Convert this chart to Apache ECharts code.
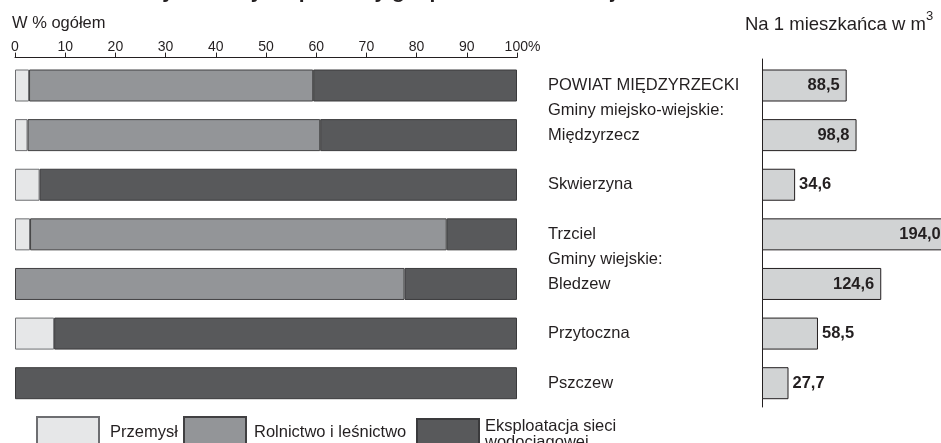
<!DOCTYPE html>
<html>
<head>
<meta charset="utf-8">
<title>Zużycie wody</title>
<script src="https://cdn.jsdelivr.net/npm/echarts@6/dist/echarts.min.js"></script>
<style>
html, body { margin: 0; padding: 0; background: #fff; }
#chart { width: 941px; height: 443px; }
</style>
</head>
<body>
<div id="chart"></div>
<script>
// wiersze wykresu - naglowki grup i puste wiersze tez zajmuja miejsce na osi
var categories = ['POWIAT MIĘDZYRZECKI', 'Gminy miejsko-wiejskie:', 'Międzyrzecz', '', 'Skwierzyna', '',
  'Trzciel', 'Gminy wiejskie:', 'Bledzew', '', 'Przytoczna', '', 'Pszczew'];
// struktura zuzycia w % ogolem
var przemysl = [2.8, null, 2.5, null, 4.9, null, 3.0, null, null, null, 7.8, null, null];
var rolnictwo = [56.6, null, 58.3, null, null, null, 83.0, null, 77.6, null, null, null, null];
var eksploatacja = [40.6, null, 39.2, null, 95.1, null, 14.0, null, 22.4, null, 92.2, null, 100];
// na 1 mieszkanca w m3
var naMieszkanca = [88.5, null, 98.8, null, 34.6, null, 194.0, null, 124.6, null, 58.5, null, 27.7];

var FONT = 'Liberation Sans';
var INK = '#231f20';

var myChart = echarts.init(document.getElementById('chart'));

function fmt (v) {
  return v.toFixed(1).replace('.', ',');
}

function legendAt (name, left, textPad) {
  return {
    data: [name], left: left, top: 416, padding: 0, icon: 'rect', itemWidth: 62, itemHeight: 30,
    textStyle: { fontSize: 16.5, fontFamily: FONT, color: INK, lineHeight: 16, padding: textPad }
  }
}

var option = {
  animation: false,
  backgroundColor: '#fff',
  textStyle: { fontFamily: FONT, color: INK },
  graphic: [
    {
      type: 'text', left: 126, top: -18,
      style: { text: 'Zużycie wody na potrzeby gospodarki narodowej i ludności', font: 'bold 21px ' + FONT, fill: INK }
    },
    {
      type: 'text', left: 12, top: 15,
      style: { text: 'W % ogółem', font: '16.5px ' + FONT, fill: INK }
    },
    {
      type: 'text', left: 745, top: 10,
      style: {
        text: '{a|Na 1 mieszkańca w m}{b|3}',
        fill: INK,
        rich: {
          a: { fontSize: 18.5, fontFamily: FONT, lineHeight: 30, fill: INK },
          b: { fontSize: 13, fontFamily: FONT, lineHeight: 13, verticalAlign: 'top', fill: INK }
        }
      }
    }
  ],
  legend: [
    legendAt('Przemysł', 36, [0, 0, 12, 6]),
    legendAt('Rolnictwo i leśnictwo', 183, [0, 0, 12, 3]),
    legendAt('Eksploatacja sieci\nwodociągowej', 416, [0, 0, 4, 1])
  ],
  grid: [
    { left: 15, width: 502, top: 73.1, bottom: 47.4 },
    { left: 762, right: 1, top: 73.1, bottom: 47.4 },
    { left: 762, width: 10, top: 59, bottom: 36 }
  ],
  xAxis: [
    {
      gridIndex: 0, type: 'value', min: 0, max: 100, interval: 10, position: 'top', offset: 15.5,
      axisLine: { show: true, lineStyle: { color: INK, width: 1 } },
      axisTick: { show: true, length: 5, lineStyle: { color: INK } },
      axisLabel: {
        margin: 3, fontSize: 14, fontFamily: FONT, color: INK,
        formatter: function (v) { return v === 100 ? '{p|100%}' : String(v) },
        rich: { p: { fontSize: 14, fontFamily: FONT, color: INK, padding: [0, 0, 0, 11] } }
      },
      splitLine: { show: false }
    },
    // skala ok. 0,958 px na m3 - slupek Trzciela wychodzi poza obszar rysunku
    { gridIndex: 1, type: 'value', min: 0, max: 186, show: false },
    { gridIndex: 2, type: 'value', min: 0, max: 1, show: false }
  ],
  yAxis: [
    {
      gridIndex: 0, type: 'category', data: categories, inverse: true, position: 'right',
      axisLine: { show: false }, axisTick: { show: false },
      axisLabel: { margin: 31, align: 'left', fontSize: 16.5, fontFamily: FONT, color: INK }
    },
    { gridIndex: 1, type: 'category', data: categories, inverse: true, show: false },
    {
      gridIndex: 2, type: 'value', min: 0, max: 1,
      axisLine: { show: true, lineStyle: { color: INK, width: 1 } },
      axisTick: { show: false }, axisLabel: { show: false }, splitLine: { show: false }
    }
  ],
  series: [
    {
      name: 'Przemysł', type: 'bar', stack: 'udzial', barWidth: 32, clip: false,
      xAxisIndex: 0, yAxisIndex: 0, data: przemysl,
      itemStyle: { color: '#e6e7e8', borderColor: '#6d6e71', borderWidth: 1 }
    },
    {
      name: 'Rolnictwo i leśnictwo', type: 'bar', stack: 'udzial', barWidth: 32, clip: false,
      xAxisIndex: 0, yAxisIndex: 0, data: rolnictwo,
      itemStyle: { color: '#939598', borderColor: '#414042', borderWidth: 1 }
    },
    {
      name: 'Eksploatacja sieci\nwodociągowej', type: 'bar', stack: 'udzial', barWidth: 32, clip: false,
      xAxisIndex: 0, yAxisIndex: 0, data: eksploatacja,
      itemStyle: { color: '#58595b', borderColor: '#3a3a3c', borderWidth: 1 }
    },
    {
      name: 'Na 1 mieszkańca', type: 'bar', barWidth: 32, clip: false,
      xAxisIndex: 1, yAxisIndex: 1,
      data: naMieszkanca.map(function (v) {
        if (v === null) return null
        return { value: v, label: { position: v > 80 ? 'insideRight' : 'right', distance: v > 80 ? 7 : 4 } }
      }),
      itemStyle: { color: '#d1d3d4', borderColor: INK, borderWidth: 1 },
      label: {
        show: true, fontSize: 16.5, fontWeight: 'bold', fontFamily: FONT, color: INK,
        formatter: function (p) { return fmt(p.value) }
      }
    }
  ]
};

myChart.setOption(option);
</script>
</body>
</html>
